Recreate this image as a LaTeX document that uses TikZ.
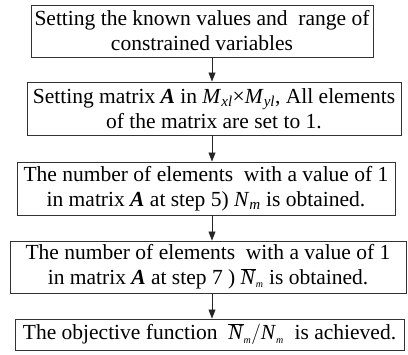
\documentclass[tikz,border=0pt]{standalone}
\usepackage{fontspec}
\setmainfont{Liberation Serif}
\usetikzlibrary{arrows.meta}
\newcommand{\subm}{\mbox{\fontsize{10}{10}\selectfont\textit{m}}}
\newcommand{\Nbar}{\ensuremath{\overline{\mbox{\textit{N}}}_{\subm}}}
\newcommand{\Nsm}{\ensuremath{\mbox{\textit{N}}_{\subm}}}
\begin{document}
\begin{tikzpicture}[x=1pt,y=-1pt,
  box/.style={draw=black!80, line width=0.9pt, align=center, inner sep=0pt,
    font=\fontsize{21.5}{25}\selectfont},
  arr/.style={draw=black!85, line width=0.9pt, -{Triangle[length=9pt,width=7pt]}}]
\useasboundingbox (0,0) rectangle (408,355);
\node[box, minimum width=342pt, minimum height=52pt] (b1) at (202,31)
  {Setting the known values and\ \ range of\\constrained variables};
\node[box, minimum width=374pt, minimum height=53pt] (b2) at (214,108.5)
  {Setting matrix \textbf{\textit{A}} in \textit{M}\textsubscript{\textit{xl}}×\textit{M}\textsubscript{\textit{yl}}, All elements\\of the matrix are set to 1.};
\node[box, minimum width=378pt, minimum height=53pt] (b3) at (206,188.5)
  {The number of elements\ \ with a value of 1\\in matrix \textbf{\textit{A}} at step 5) \textit{N}\textsubscript{\textit{m}} is obtained.};
\node[box, minimum width=396pt, minimum height=52pt] (b4) at (208,267)
  {The number of elements\ \ with a value of 1\\in matrix \textbf{\textit{A}} at step 7 )\ \Nbar\ is obtained.};
\node[box, minimum width=389pt, minimum height=31pt] (b5) at (209.5,334.5)
  {The objective function\ \ \Nbar$\big/$\Nsm\ \ is achieved.};
\coordinate (ax) at (212,0);
\draw[arr] (b1.south -| ax) -- (b2.north -| ax);
\draw[arr] (b2.south -| ax) -- (b3.north -| ax);
\draw[arr] (b3.south -| ax) -- (b4.north -| ax);
\draw[arr] (b4.south -| ax) -- (b5.north -| ax);
\end{tikzpicture}
\end{document}
